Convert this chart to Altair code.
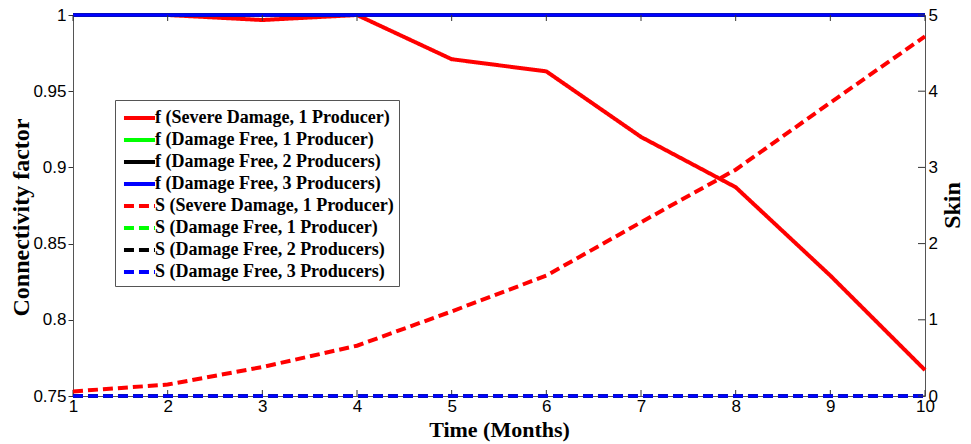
import altair as alt
import pandas as pd

# ---------------- data ----------------
months = [1, 2, 3, 4, 5, 6, 7, 8, 9, 10]

f_severe_1 = [1.0, 1.0, 0.9967, 1.0, 0.971, 0.963, 0.920, 0.887, 0.829, 0.767]
f_free_1 = [1.0, 1.0, 1.0, 1.0, 1.0, 1.0, 1.0, 1.0, 1.0, 1.0]
f_free_2 = [1.0, 1.0, 1.0, 1.0, 1.0, 1.0, 1.0, 1.0, 1.0, 1.0]
f_free_3 = [1.0, 1.0, 1.0, 1.0, 1.0, 1.0, 1.0, 1.0, 1.0, 1.0]

s_severe_1 = [0.06, 0.15, 0.38, 0.66, 1.11, 1.58, 2.28, 2.97, 3.85, 4.72]
s_free_1 = [0.0, 0.0, 0.0, 0.0, 0.0, 0.0, 0.0, 0.0, 0.0, 0.0]
s_free_2 = [0.0, 0.0, 0.0, 0.0, 0.0, 0.0, 0.0, 0.0, 0.0, 0.0]
s_free_3 = [0.0, 0.0, 0.0, 0.0, 0.0, 0.0, 0.0, 0.0, 0.0, 0.0]

labels_f = [
    "f (Severe Damage, 1 Producer)",
    "f (Damage Free, 1 Producer)",
    "f (Damage Free, 2 Producers)",
    "f (Damage Free, 3 Producers)",
]
labels_s = [
    "S (Severe Damage, 1 Producer)",
    "S (Damage Free, 1 Producer)",
    "S (Damage Free, 2 Producers)",
    "S (Damage Free, 3 Producers)",
]
series_colors = ["#ff0000", "#00ff00", "#000000", "#0000ff"]

f_ticks = [0.75, 0.8, 0.85, 0.9, 0.95, 1.0]
skin_ticks = [0, 1, 2, 3, 4, 5]

# ---------------- tables ----------------
rows = []
for lab, vals in zip(labels_f, [f_severe_1, f_free_1, f_free_2, f_free_3]):
    for m, v in zip(months, vals):
        rows.append({"month": m, "value": v, "series": lab})
for lab, vals in zip(labels_s, [s_severe_1, s_free_1, s_free_2, s_free_3]):
    for m, v in zip(months, vals):
        rows.append({"month": m, "value": v, "series": lab})
df = pd.DataFrame(rows)
xt = pd.DataFrame({"month": months})
yt = pd.DataFrame({"tick": skin_ticks})

PW, PH = 852, 381
all_labels = labels_f + labels_s

color_scale = alt.Scale(domain=all_labels, range=series_colors + series_colors)
dash_scale = alt.Scale(domain=all_labels, range=[[1, 0]] * 4 + [[10, 5]] * 4)

legend = alt.Legend(
    title=None, orient="none", legendX=42, legendY=85,
    symbolType="M-0.82,0H2", symbolSize=484, symbolStrokeWidth=4,
    labelFont="Liberation Serif", labelFontWeight="bold", labelFontSize=18,
    labelColor="black", labelLimit=0, labelOffset=9, padding=5,
    strokeColor="#555555", fillColor="white", rowPadding=0,
)

x_axis = alt.Axis(
    title="Time (Months)", values=months, format="d", ticks=False, grid=False,
    labelFont="Liberation Sans", labelFontSize=17, labelColor="black",
    labelPadding=2, labelFlush=False, labelOverlap=False,
    domainColor="#555555",
    titleFont="Liberation Serif", titleFontSize=22, titleFontWeight="bold",
    titleColor="black", titleY=33, titleBaseline="middle",
)
x_enc = alt.X("month:Q", scale=alt.Scale(domain=[1, 10], nice=False, zero=False), axis=x_axis)

left_axis = alt.Axis(
    title="Connectivity factor", values=f_ticks, format=".2~f", grid=False,
    tickSize=5, tickColor="#333333", domainColor="#555555",
    labelFont="Liberation Sans", labelFontSize=17, labelColor="black",
    labelPadding=2, labelFlush=False, labelBaseline="middle",
    titleFont="Liberation Serif", titleFontSize=24, titleFontWeight="bold",
    titleColor="black", titleX=-52, titleY=202, titleAngle=270,
    titleAlign="center", titleBaseline="middle",
)
right_axis = alt.Axis(
    title="Skin", orient="right", values=skin_ticks, format="d", grid=False,
    ticks=False, domainColor="#555555",
    labelFont="Liberation Sans", labelFontSize=17, labelColor="black",
    labelPadding=3, labelFlush=False, labelBaseline="middle",
    titleFont="Liberation Serif", titleFontSize=24, titleFontWeight="bold",
    titleColor="black", titleX=27, titleY=190, titleAngle=270,
    titleAlign="center", titleBaseline="middle",
)

y_left = alt.Y("value:Q", scale=alt.Scale(domain=[0.75, 1.0], nice=False, zero=False), axis=left_axis)
y_right = alt.Y("value:Q", scale=alt.Scale(domain=[0, 5], nice=False, zero=False), axis=right_axis)

widths = [4, 3.5, 3.5, 3.5]


def series_layer(label, y_enc, w):
    return (
        alt.Chart(df)
        .transform_filter(alt.datum.series == label)
        .mark_line(strokeWidth=w)
        .encode(
            x=x_enc,
            y=y_enc,
            color=alt.Color("series:N", scale=color_scale, legend=legend),
            strokeDash=alt.StrokeDash("series:N", scale=dash_scale, legend=legend),
        )
    )


f_layers = [series_layer(l, y_left, w) for l, w in zip(labels_f, widths)]
s_layers = [series_layer(l, y_right, w) for l, w in zip(labels_s, widths)]

top_ticks = alt.Chart(xt).mark_rule(color="#333333", strokeWidth=1).encode(
    x=x_enc, y=alt.value(0), y2=alt.value(6)
)
bottom_ticks = alt.Chart(xt).mark_rule(color="#333333", strokeWidth=1).encode(
    x=x_enc, y=alt.value(PH), y2=alt.value(PH - 6)
)
right_ticks = alt.Chart(yt).mark_rule(color="#333333", strokeWidth=1).encode(
    y=alt.Y("tick:Q", scale=alt.Scale(domain=[0, 5], nice=False, zero=False), axis=right_axis),
    x=alt.value(PW), x2=alt.value(PW - 7),
)

left_group = alt.layer(*f_layers, top_ticks, bottom_ticks)
right_group = alt.layer(*s_layers, right_ticks)

chart = (
    alt.layer(left_group, right_group)
    .resolve_scale(y="independent")
    .properties(
        width=PW, height=PH,
        padding={"left": 73, "top": 15, "right": 46, "bottom": 48},
        autosize=alt.AutoSizeParams(type="none"),
    )
    .configure_view(stroke="#444444", strokeWidth=1)
    .configure(background="white")
)

chart.save("out.html", embed_options={"renderer": "svg", "actions": False})
